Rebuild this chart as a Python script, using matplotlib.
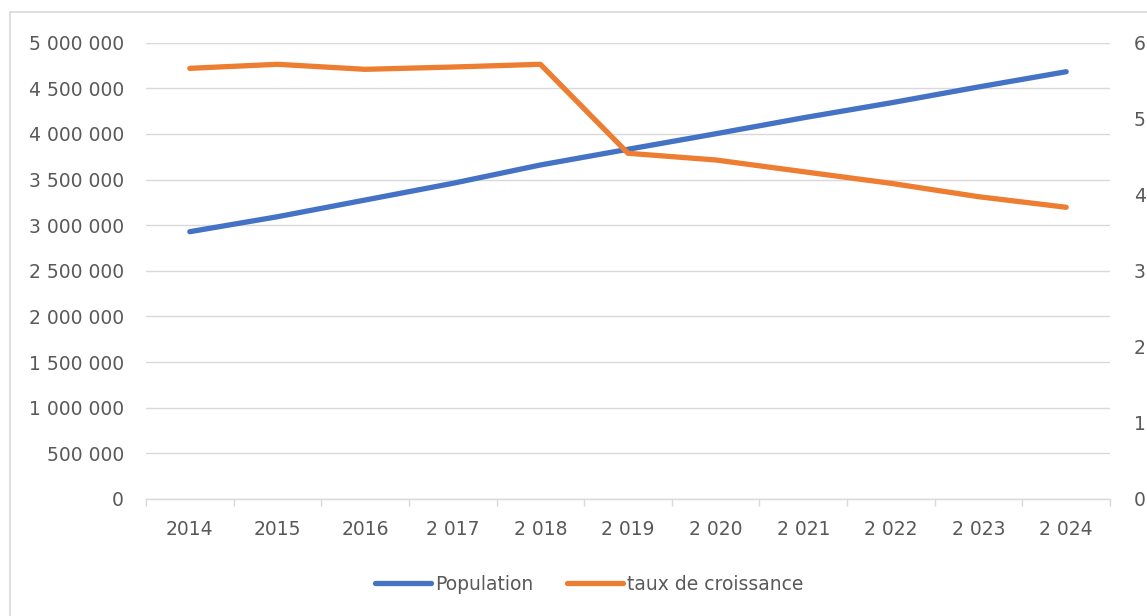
import matplotlib
matplotlib.use("Agg")
import matplotlib.pyplot as plt
from matplotlib.patches import Rectangle
from matplotlib.ticker import FuncFormatter, MultipleLocator, FixedLocator

years = ["2014", "2015", "2016", "2 017", "2 018", "2 019", "2 020", "2 021", "2 022", "2 023", "2 024"]
population = [2929000, 3093000, 3276000, 3459000, 3660000, 3832000, 4002000, 4177000, 4341000, 4515000, 4682000]
taux = [5.663, 5.716, 5.650, 5.680, 5.716, 4.546, 4.458, 4.304, 4.151, 3.975, 3.836]

BLUE = "#4472C4"
ORANGE = "#ED7D31"
GRID = "#D9D9D9"
TXT = "#595959"
FS = 13.5

plt.rcParams["font.family"] = ["DejaVu Sans"]

fig = plt.figure(figsize=(11.47, 6.16), dpi=100)
fig.patches.append(Rectangle((10/1147, -0.1), 1.2, 0.1 + 1 - 12/616, transform=fig.transFigure,
                             fill=False, edgecolor=GRID, linewidth=1.2, zorder=0))

ax = fig.add_axes([146/1147, 1 - 499/616, (1110 - 146)/1147, (499 - 42.7)/616])
x = list(range(len(years)))
l1, = ax.plot(x, population, color=BLUE, linewidth=3.8, solid_capstyle="round", label="Population", zorder=3)
ax.set_ylim(0, 5000000)
ax.set_xlim(-0.5, len(years) - 0.5)
ax.yaxis.set_major_locator(MultipleLocator(500000))
ax.yaxis.set_major_formatter(FuncFormatter(lambda v, p: f"{int(v):,}".replace(",", " ")))
ax.grid(axis="y", color=GRID, linewidth=1.0)
ax.set_axisbelow(True)
for s in ["top", "right", "left"]:
    ax.spines[s].set_visible(False)
ax.spines["bottom"].set_color(GRID)
ax.spines["bottom"].set_linewidth(1.0)
ax.set_xticks(x)
ax.set_xticklabels(years)
ax.xaxis.set_minor_locator(FixedLocator([i - 0.5 for i in range(len(years) + 1)]))
ax.tick_params(axis="x", which="major", length=0, pad=15, labelsize=FS, labelcolor=TXT)
ax.tick_params(axis="x", which="minor", length=5, color=GRID, width=1.0)
ax.tick_params(axis="y", length=0, pad=16, labelsize=FS, labelcolor=TXT)

ax2 = ax.twinx()
l2, = ax2.plot(x, taux, color=ORANGE, linewidth=3.8, solid_capstyle="round", label="taux de croissance", zorder=3)
ax2.set_ylim(0, 6)
ax2.yaxis.set_major_locator(MultipleLocator(1))
ax2.tick_params(axis="y", length=0, pad=17, labelsize=FS, labelcolor=TXT)
for s in ax2.spines.values():
    s.set_visible(False)

leg = fig.legend(handles=[l1, l2], loc="center", bbox_to_anchor=(589/1147, 1 - 584/616), ncol=2,
                 frameon=False, fontsize=FS, handlelength=3.0, handletextpad=0.2, columnspacing=1.8,
                 labelcolor=TXT)

fig.savefig("out.png", dpi=100)
